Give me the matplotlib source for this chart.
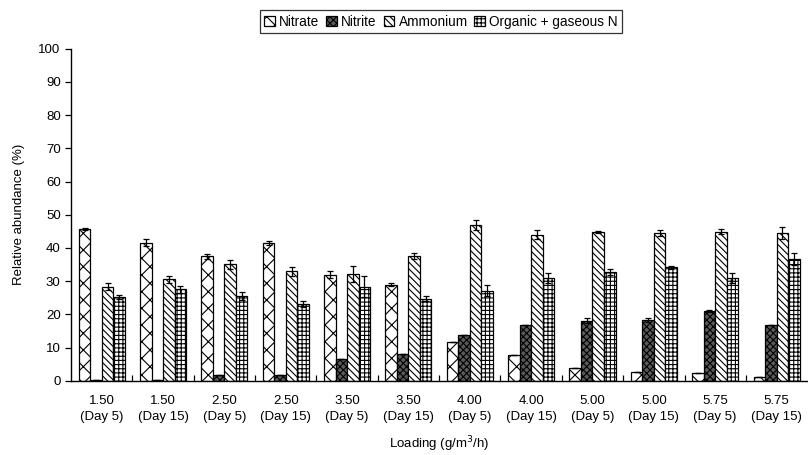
import matplotlib
matplotlib.use("Agg")
import matplotlib.pyplot as plt
import numpy as np

plt.rcParams['font.family'] = ['Liberation Sans', 'DejaVu Sans']
plt.rcParams['hatch.linewidth'] = 0.8

loadings = ["1.50", "1.50", "2.50", "2.50", "3.50", "3.50",
            "4.00", "4.00", "5.00", "5.00", "5.75", "5.75"]
days = ["Day 5", "Day 15"] * 6

nitrate = [45.8, 41.6, 37.5, 41.6, 32.0, 29.0, 11.8, 7.7, 3.8, 2.7, 2.4, 1.3]
nitrite = [0.3, 0.2, 1.8, 1.8, 6.5, 8.2, 13.8, 16.9, 18.1, 18.3, 21.0, 16.8]
ammonium = [28.4, 30.6, 35.1, 33.0, 32.2, 37.6, 47.0, 44.0, 44.8, 44.4, 44.9, 44.5]
organic = [25.2, 27.5, 25.6, 23.1, 28.4, 24.7, 27.1, 31.0, 32.8, 34.2, 31.0, 36.6]

nitrate_err = [0.3, 1.0, 0.8, 0.6, 1.0, 0.4, 0, 0, 0, 0, 0, 0]
nitrite_err = [0, 0, 0, 0, 0, 0, 0, 0, 0.8, 0.5, 0.3, 0]
ammonium_err = [1.0, 1.0, 1.3, 1.3, 2.3, 0.8, 1.5, 1.3, 0.2, 0.9, 0.8, 1.7]
organic_err = [0.7, 1.0, 1.2, 1.0, 3.2, 0.7, 1.7, 1.5, 0.9, 0.5, 1.5, 1.8]

series = [
    ("Nitrate", nitrate, nitrate_err, "white", "xx"),
    ("Nitrite", nitrite, nitrite_err, "#5a5a5a", "xxxxx"),
    ("Ammonium", ammonium, ammonium_err, "white", "\\\\\\\\\\"),
    ("Organic + gaseous N", organic, organic_err, "white", "++++"),
]

fig = plt.figure(figsize=(8.08, 4.55), dpi=100)
ax = fig.add_axes([0.088, 0.163, 0.911, 0.73])

x = np.arange(len(loadings))
width = 0.1875
for i, (name, vals, errs, fc, hatch) in enumerate(series):
    pos = x + (i - 1.5) * width
    ax.bar(pos, vals, width, color=fc, edgecolor="black", hatch=hatch,
           linewidth=0.9, label=name)
    ax.errorbar(pos, vals, yerr=errs, fmt="none", ecolor="black",
                elinewidth=0.9, capsize=2.5, capthick=0.9)

ax.set_xlim(-0.5, len(loadings) - 0.5)
ax.set_ylim(0, 100)
ax.set_yticks(np.arange(0, 101, 10))
ax.set_xticks(x)
ax.set_xticklabels([f"{l}\n({d})" for l, d in zip(loadings, days)], fontsize=9.5,
                   linespacing=1.5)
ax.set_xticks(np.arange(0.5, len(loadings) - 0.5, 1), minor=True)
ax.tick_params(axis="x", which="major", length=0, pad=10)
ax.tick_params(axis="x", which="minor", direction="in", length=4, width=0.9)
ax.tick_params(axis="y", direction="out", length=4, width=0.9, labelsize=9.5)

for side in ("top", "right"):
    ax.spines[side].set_visible(False)
for side in ("left", "bottom"):
    ax.spines[side].set_linewidth(1.0)

ax.set_ylabel("Relative abundance (%)", fontsize=9.5, labelpad=10)
ax.set_xlabel("Loading (g/m$^3$/h)", fontsize=9.5, labelpad=8)

leg = fig.legend(loc="upper center", bbox_to_anchor=(0.546, 0.977), ncol=4,
                 fontsize=9.8, frameon=True, fancybox=False, edgecolor="black",
                 handlelength=0.8, handleheight=0.8, handletextpad=0.3,
                 columnspacing=0.5, borderpad=0.3, borderaxespad=0)
leg.get_frame().set_linewidth(0.9)

fig.savefig("out.png", dpi=100)
